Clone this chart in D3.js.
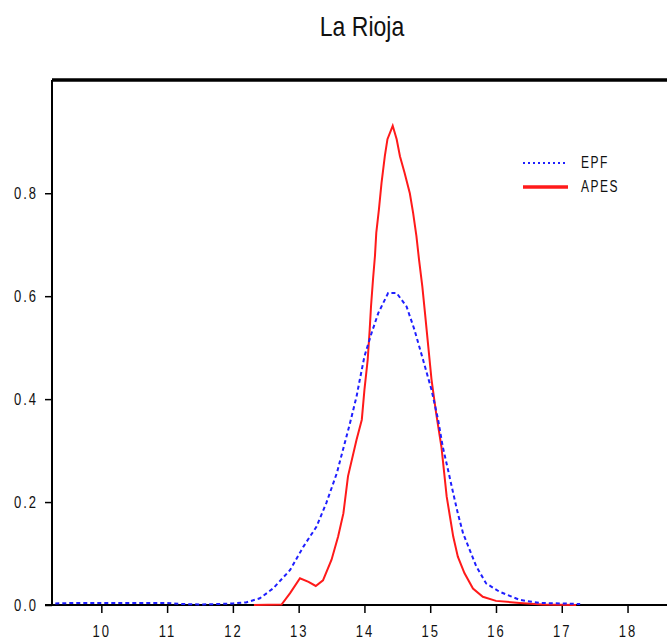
<!DOCTYPE html>
<html>
<head>
<meta charset="utf-8">
<script src="https://cdn.jsdelivr.net/npm/d3@7"></script>
<style>
  body { margin: 0; background: #fff; }
  svg { display: block; }
</style>
</head>
<body>
<script>
// densities
const epfX = [9.3, 9.6, 10, 10.5, 11, 11.2, 11.5, 11.8, 12.0, 12.2, 12.41, 12.61, 12.87, 13.07, 13.27, 13.42, 13.58, 13.78, 13.88, 13.93, 14.0, 14.11, 14.21, 14.36, 14.49, 14.64, 14.76, 14.89, 15.02, 15.12, 15.19, 15.27, 15.35, 15.42, 15.5, 15.6, 15.7, 15.85, 16.05, 16.36, 16.66, 17.0, 17.28];
const epfY = [0.003, 0.004, 0.004, 0.004, 0.004, 0.002, 0.001, 0.002, 0.003, 0.005, 0.013, 0.032, 0.068, 0.113, 0.152, 0.198, 0.256, 0.353, 0.405, 0.438, 0.483, 0.529, 0.567, 0.606, 0.606, 0.58, 0.535, 0.477, 0.418, 0.36, 0.308, 0.263, 0.217, 0.178, 0.139, 0.107, 0.075, 0.042, 0.026, 0.01, 0.004, 0.003, 0.002];

const apesX = [12.32, 12.74, 12.87, 13.02, 13.15, 13.26, 13.37, 13.5, 13.6, 13.68, 13.75, 13.88, 13.96, 14.0, 14.05, 14.08, 14.10, 14.13, 14.16, 14.18, 14.22, 14.26, 14.31, 14.35, 14.43, 14.49, 14.54, 14.61, 14.69, 14.74, 14.79, 14.83, 14.88, 14.92, 14.97, 15.02, 15.09, 15.17, 15.25, 15.30, 15.35, 15.42, 15.52, 15.65, 15.80, 16.0, 16.36, 16.7, 17.22];
const apesY = [0, 0.001, 0.023, 0.052, 0.045, 0.037, 0.048, 0.088, 0.133, 0.178, 0.25, 0.321, 0.36, 0.418, 0.477, 0.535, 0.58, 0.632, 0.678, 0.723, 0.768, 0.82, 0.872, 0.905, 0.931, 0.905, 0.872, 0.84, 0.8, 0.762, 0.717, 0.671, 0.619, 0.568, 0.503, 0.438, 0.373, 0.308, 0.211, 0.172, 0.133, 0.094, 0.062, 0.032, 0.016, 0.008, 0.004, 0.001, 0];

const xTicks = [10, 11, 12, 13, 14, 15, 16, 17, 18];
const yTicks = [0, 0.2, 0.4, 0.6, 0.8];
const seriesNames = ["EPF", "APES"];
const chartTitle = "La Rioja";

const width = 667, height = 641;
const mLeft = 52, mTop = 80, mBottom = 605;

const svg = d3.select("body").append("svg")
    .attr("width", width)
    .attr("height", height);

const x = d3.scaleLinear().domain([9.25, 18.6]).range([mLeft, width]);
const y = d3.scaleLinear().domain([0, 1.02]).range([mBottom, mTop]);

const lblFont = "'Liberation Sans', Arial, sans-serif";

// title
svg.append("text")
    .attr("transform", "translate(362,36) scale(1,1.2)")
    .attr("text-anchor", "middle")
    .style("font", "23px " + lblFont)
    .attr("fill", "#111")
    .text(chartTitle);

// frame top
svg.append("line")
    .attr("x1", mLeft).attr("x2", width)
    .attr("y1", mTop).attr("y2", mTop)
    .attr("stroke", "#000").attr("stroke-width", 3.5);

// axes
const gx = svg.append("g")
    .attr("transform", "translate(0," + mBottom + ")")
    .call(d3.axisBottom(x).tickValues(xTicks).tickSize(8).tickSizeOuter(0).tickFormat(d3.format("d")));
const gy = svg.append("g")
    .attr("transform", "translate(" + mLeft + ",0)")
    .call(d3.axisLeft(y).tickValues(yTicks).tickSize(7).tickSizeOuter(0).tickFormat(d3.format(".1f")));

[gx, gy].forEach(g => {
    g.select(".domain").attr("stroke", "#000").attr("stroke-width", 2);
    g.selectAll(".tick line").attr("stroke", "#000").attr("stroke-width", 1.5);
    g.selectAll("text").style("font", "13px " + lblFont).style("letter-spacing", "2px").attr("fill", "#111");
});
gy.select(".domain").attr("d", "M0," + mTop + "V" + mBottom);
gx.select(".domain").attr("d", "M" + (mLeft - 7) + ",0H" + width);

gx.selectAll("text").attr("y", 0).attr("dy", 0)
    .attr("transform", "translate(0,32) scale(1,1.3)");
gy.selectAll("text").attr("x", 0).attr("dy", 0)
    .attr("transform", "translate(-14,5) scale(1,1.3)");

// curves
const line = d3.line().curve(d3.curveLinear);

svg.append("path")
    .attr("d", line(apesX.map((v, i) => [x(v), y(apesY[i])])))
    .attr("fill", "none").attr("stroke", "#ff1a1a").attr("stroke-width", 2);

svg.append("path")
    .attr("d", line(epfX.map((v, i) => [x(v), y(epfY[i])])))
    .attr("fill", "none").attr("stroke", "#1f1fff").attr("stroke-width", 2)
    .attr("stroke-dasharray", "4,3");

// legend
const leg = svg.append("g").attr("transform", "translate(523,163)");
const legStyle = [
    { dash: "2,3", color: "#1f1fff", w: 2 },
    { dash: null, color: "#ff1a1a", w: 3.5 }
];
seriesNames.forEach((name, i) => {
    const row = leg.append("g").attr("transform", "translate(0," + (i * 24) + ")");
    row.append("line")
        .attr("x1", 0).attr("x2", 45)
        .attr("stroke", legStyle[i].color)
        .attr("stroke-width", legStyle[i].w)
        .attr("stroke-dasharray", legStyle[i].dash);
    row.append("text")
        .attr("transform", "translate(58,5) scale(1,1.3)")
        .style("font", "12px " + lblFont)
        .style("letter-spacing", "1.5px")
        .attr("fill", "#111")
        .text(name);
});
</script>
</body>
</html>
